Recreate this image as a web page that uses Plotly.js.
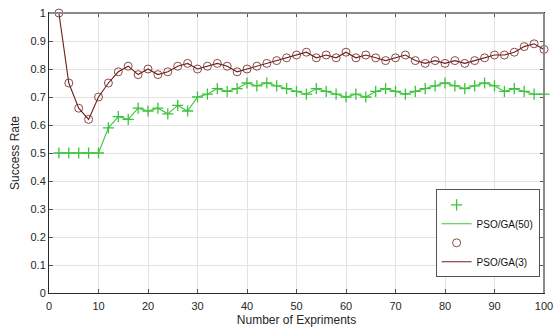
<!DOCTYPE html>
<html>
<head>
<meta charset="utf-8">
<script src="https://cdn.plot.ly/plotly-3.0.1.min.js"></script>
<style>html,body{margin:0;padding:0;background:#fff;}#chart{width:555px;height:331px;}</style>
</head>
<body>
<div id="chart"></div>
<script>
var experiments = [2,4,6,8,10,12,14,16,18,20,22,24,26,28,30,32,34,36,38,40,42,44,46,48,50,52,54,56,58,60,62,64,66,68,70,72,74,76,78,80,82,84,86,88,90,92,94,96,98,100];
var psoGa50 = [0.50,0.50,0.50,0.50,0.50,0.59,0.63,0.62,0.66,0.65,0.66,0.64,0.67,0.65,0.70,0.71,0.73,0.72,0.73,0.75,0.74,0.75,0.74,0.73,0.72,0.71,0.73,0.72,0.71,0.70,0.71,0.70,0.72,0.73,0.72,0.71,0.72,0.73,0.74,0.75,0.74,0.73,0.74,0.75,0.74,0.72,0.73,0.72,0.71,0.71];
var psoGa3 = [1.00,0.75,0.66,0.62,0.70,0.75,0.79,0.81,0.78,0.80,0.78,0.79,0.81,0.82,0.80,0.81,0.82,0.81,0.79,0.80,0.81,0.82,0.83,0.84,0.85,0.86,0.84,0.85,0.84,0.86,0.84,0.85,0.84,0.83,0.84,0.85,0.83,0.82,0.83,0.82,0.83,0.82,0.83,0.84,0.85,0.85,0.86,0.88,0.89,0.87];
var seriesNames = ['PSO/GA(50)', 'PSO/GA(3)'];
var xTicks = [0,10,20,30,40,50,60,70,80,90,100];
var yTicks = [0,0.1,0.2,0.3,0.4,0.5,0.6,0.7,0.8,0.9,1];

var green = '#3cc43c';
var maroon = '#6e1f1f';
var font = 'Liberation Sans, Arial, sans-serif';

var traces = [
  {x: experiments, y: psoGa50, mode: 'markers', name: ' ', cliponaxis: false,
   marker: {symbol: 'cross-thin-open', size: 8, line: {color: green, width: 1.3}, color: green}},
  {x: experiments, y: psoGa50, mode: 'lines', name: seriesNames[0],
   line: {color: green, width: 1.1}},
  {x: experiments, y: psoGa3, mode: 'markers', name: ' ', cliponaxis: false,
   marker: {symbol: 'circle-open', size: 8, color: '#8a4a48', line: {color: '#8a4a48', width: 1}}},
  {x: experiments, y: psoGa3, mode: 'lines', name: seriesNames[1],
   line: {color: maroon, width: 1.1}}
];

var axisCommon = {
  showgrid: true, gridcolor: '#e3e3e3', gridwidth: 1,
  zeroline: false, showline: true, linecolor: '#2a2a2a', linewidth: 1,
  ticks: 'inside', ticklen: 4, tickcolor: '#555', mirror: 'ticks',
  tickfont: {family: font, size: 11, color: '#262626'}
};

var layout = {
  width: 555, height: 331,
  margin: {l: 49, r: 11, t: 13, b: 38},
  paper_bgcolor: '#ffffff', plot_bgcolor: '#ffffff',
  showlegend: true,
  xaxis: Object.assign({}, axisCommon, {
    range: [0, 100], tickvals: xTicks, ticklabelstandoff: 3,
    title: {text: 'Number of Expriments', standoff: 4,
            font: {family: font, size: 12, color: '#262626'}}
  }),
  yaxis: Object.assign({}, axisCommon, {
    range: [0, 1], tickvals: yTicks,
    title: {text: 'Success Rate', standoff: 8,
            font: {family: font, size: 12, color: '#262626'}}
  }),
  legend: {
    x: 0.781, y: 0.056, xanchor: 'left', yanchor: 'bottom',
    bgcolor: '#ffffff', bordercolor: '#555555', borderwidth: 1,
    font: {family: font, size: 10, color: '#111'},
    tracegroupgap: 0, itemwidth: 30
  },
  shapes: [
    {type: 'line', xref: 'paper', yref: 'paper', x0: 0, x1: 1, y0: 1, y1: 1, line: {color: '#8a8a8a', width: 2}},
    {type: 'line', xref: 'paper', yref: 'paper', x0: 1, x1: 1, y0: 0, y1: 1, line: {color: '#8a8a8a', width: 2}}
  ]
};

Plotly.newPlot('chart', traces, layout, {displayModeBar: false, staticPlot: true});
</script>
</body>
</html>
